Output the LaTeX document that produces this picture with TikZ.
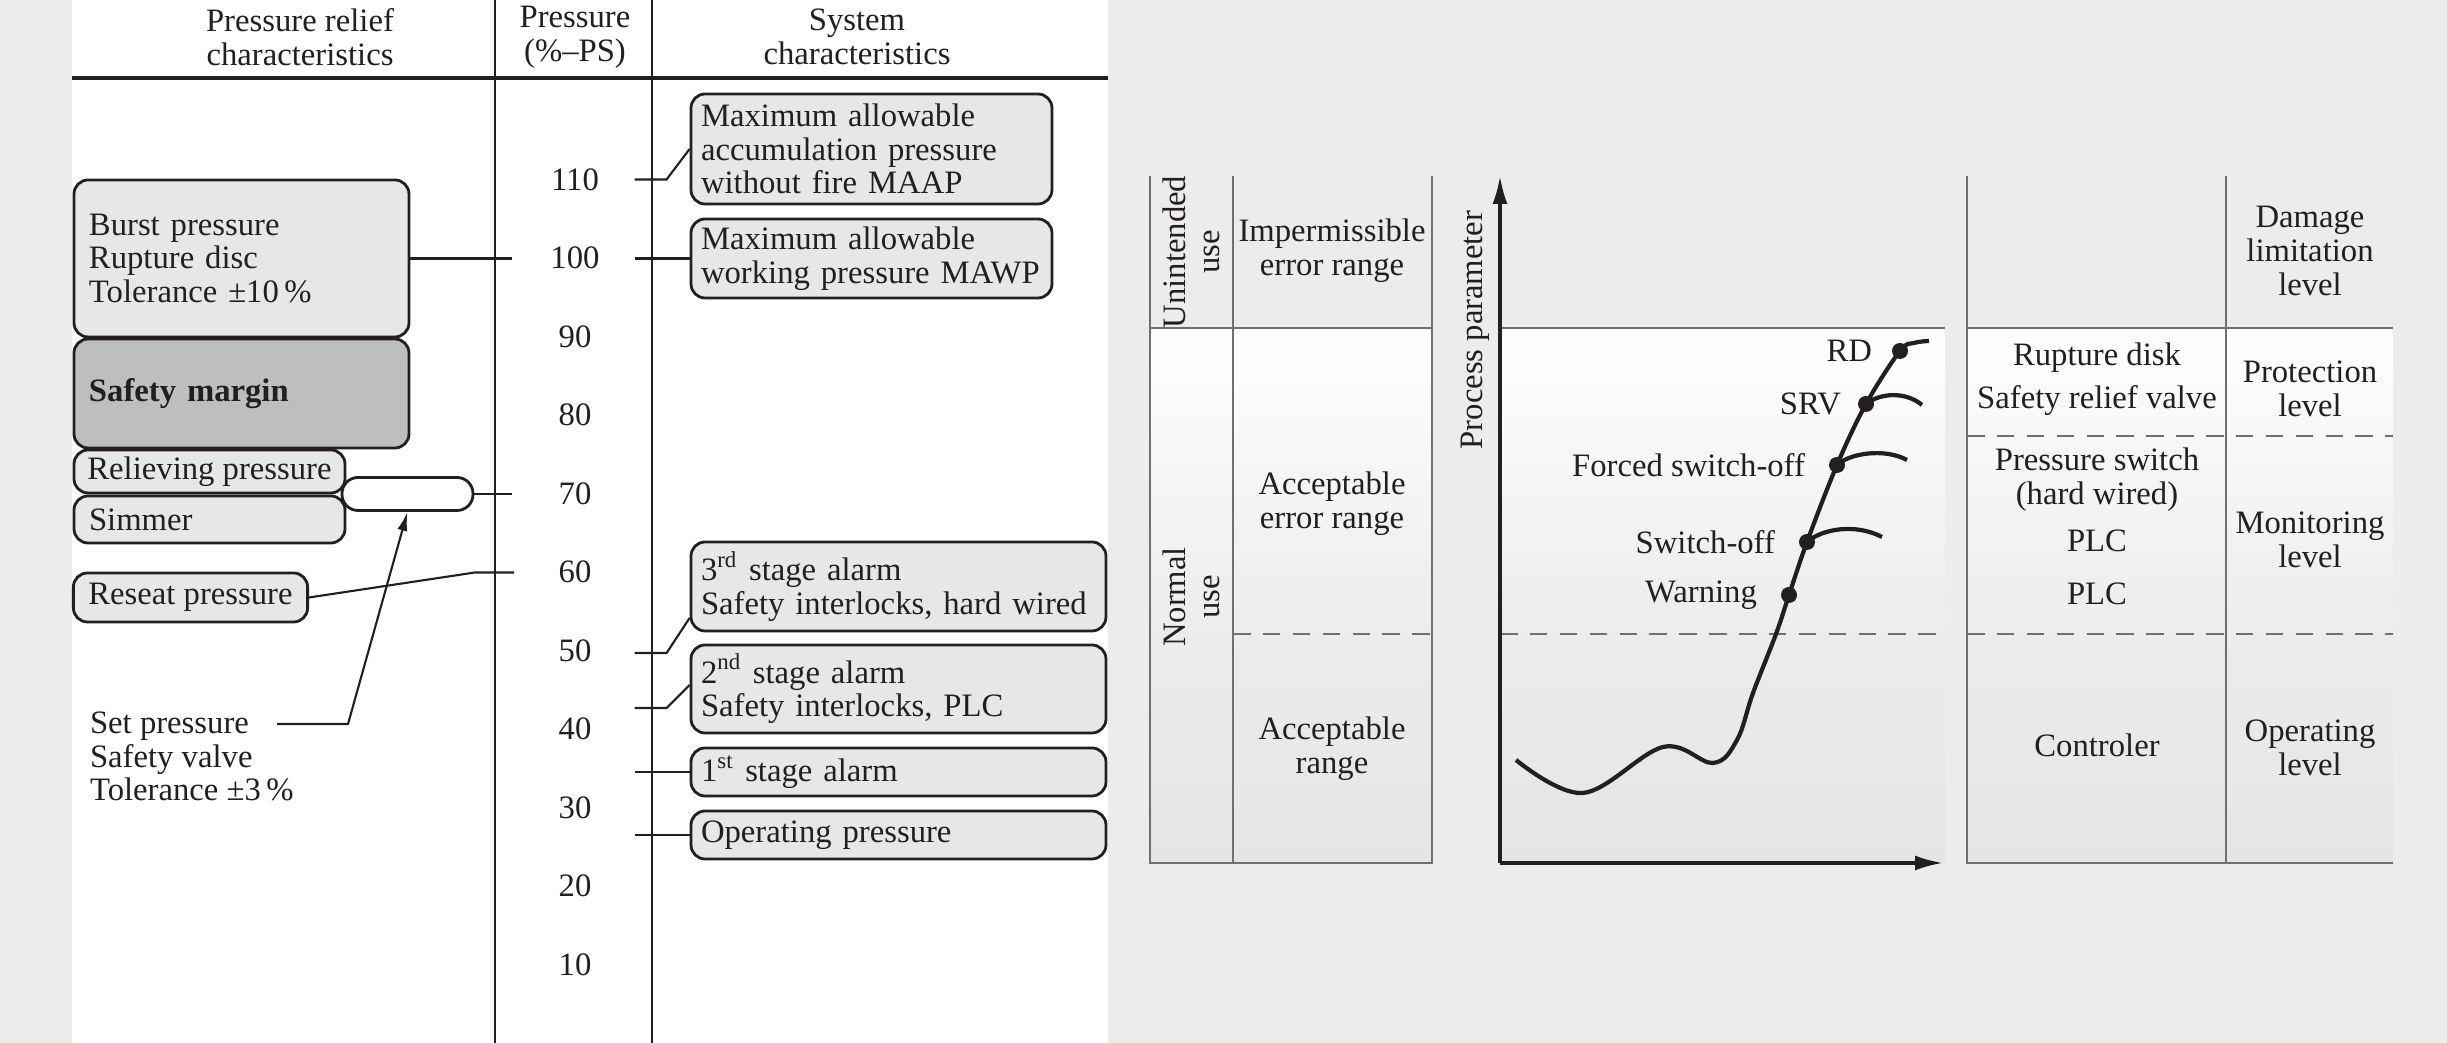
\documentclass[tikz,border=0pt]{standalone}
\usepackage{fontspec}
\setmainfont{Liberation Serif}
\usetikzlibrary{arrows.meta,positioning}
\definecolor{bggray}{RGB}{236,236,234}
\definecolor{boxgray}{RGB}{230,231,232}
\definecolor{margingray}{RGB}{189,190,192}
\definecolor{ink}{RGB}{35,31,32}
\definecolor{rulegray}{RGB}{112,112,114}
\definecolor{midgray}{RGB}{235,236,237}
\definecolor{lowgray}{RGB}{228,229,231}
\begin{document}
\begin{tikzpicture}[x=1cm,y=1cm,>={Latex[length=2.8mm,width=1.5mm]},line width=.6pt,color=ink,
  font=\fontsize{9.3}{9.6}\selectfont,
  relbox/.style={draw=ink,fill=boxgray,line width=.8pt,rounded corners=4pt,align=left,inner xsep=.15cm,inner ysep=0pt},
  sysbox/.style={relbox,inner xsep=.1cm},
  rule/.style={draw=rulegray,line width=.5pt},
  gap/.style={rule,dash pattern=on 5pt off 3.5pt},
  dot/.style={circle,fill=ink,inner sep=0pt,minimum size=.16cm},
  lbl/.style={inner sep=0pt}]
 \useasboundingbox (0,0) rectangle (24.47,10.43);
 \fill[bggray] (0,0) rectangle (24.47,10.43);
 \fill[white] (0.72,0) rectangle (11.08,10.43);
 \draw[line width=1pt] (0.72,9.65) -- (11.08,9.65);
 \draw (4.95,0) -- (4.95,10.43) (6.52,0) -- (6.52,10.43);
 \node[align=center] (hrel) at (3.00,10.06) {Pressure relief\\characteristics};
 \node[align=center] (hpr) at (5.75,10.06) {Pressure\\(\%–PS)};
 \node[align=center] (hsys) at (8.57,10.06) {System\\characteristics};
 \foreach \v in {10,20,...,110} \node (p\v) at (5.75,0.0785*\v) {\v};
 \coordinate (lx) at (5.12,0);
 \node[relbox,text width=3.05cm,minimum height=1.57cm] (burst) at (2.415,7.845) {Burst pressure\\Rupture disc\\Tolerance ±10\,\%};
 \node[relbox,fill=margingray,text width=3.05cm,minimum height=1.09cm,font=\fontsize{9.3}{9.6}\selectfont\bfseries] (margin) at (2.415,6.495) {Safety margin};
 \node[relbox,minimum width=2.71cm,minimum height=.43cm,inner xsep=.05cm] (reliev) at (2.095,5.715) {Relieving pressure};
 \node[relbox,text width=2.41cm,minimum height=.47cm] (simmer) at (2.095,5.235) {Simmer};
 \node[relbox,fill=white,minimum width=1.31cm,minimum height=.33cm,rounded corners=.16cm] (setvalve) at (4.075,5.49) {};
 \node[relbox,minimum width=2.33cm,minimum height=.49cm] (reseat) at (1.905,4.455) {Reseat pressure};
 \node[align=left,anchor=west,inner xsep=0pt] (setp) at (0.89,2.865) {Set pressure\\Safety valve\\Tolerance ±3\,\%};
 \coordinate (spt) at (2.77,3.19);
 \draw (burst.east) -- (burst.east -| lx);
 \draw (setvalve.east) -- (setvalve.east -| lx);
 \draw (reseat.east) -- ++(1.66,.25) -- ++(.39,0);
 \draw[-{Latex[length=1.9mm,width=1mm]}] (spt) -- ++(.71,0) -- (setvalve.south);
 \node[sysbox,text width=3.41cm,minimum height=1.10cm] (maap) at (8.715,8.94) {Maximum allowable\\accumulation pressure\\without fire MAAP};
 \node[sysbox,text width=3.41cm,minimum height=.79cm] (mawp) at (8.715,7.845) {Maximum allowable\\working pressure MAWP};
 \node[sysbox,text width=3.95cm,minimum height=.89cm] (alarmc) at (8.985,4.565) {3\textsuperscript{rd} stage alarm\\Safety interlocks, hard wired};
 \node[sysbox,text width=3.95cm,minimum height=.88cm] (alarmb) at (8.985,3.54) {2\textsuperscript{nd} stage alarm\\Safety interlocks, PLC};
 \node[sysbox,text width=3.95cm,minimum height=.48cm] (alarma) at (8.985,2.71) {1\textsuperscript{st} stage alarm};
 \node[sysbox,text width=3.95cm,minimum height=.48cm] (oper) at (8.985,2.08) {Operating pressure};
 \draw (maap.west) -- ++(-.23,-.305) -- ++(-.32,0);
 \draw (mawp.west) -- ++(-.55,0);
 \draw ([yshift=-3.15mm]alarmc.west) -- ++(-.23,-.35) -- ++(-.32,0);
 \draw ([yshift=.4mm]alarmb.west) -- ++(-.23,-.23) -- ++(-.32,0);
 \draw (alarma.west) -- ++(-.55,0);
 \draw (oper.west) -- ++(-.55,0);
 \foreach \xa/\xb in {11.50/14.32,15.00/19.45,19.67/23.93} {
  \shade[top color=white,bottom color=midgray] (\xa,4.09) rectangle (\xb,7.15);
  \shade[top color=midgray,bottom color=lowgray] (\xa,1.80) rectangle (\xb,4.09);
 }
 \draw[rule] (11.50,8.67) -- (11.50,1.80) -- (14.32,1.80) -- (14.32,8.67) (12.33,8.67) -- (12.33,1.80) (11.50,7.15) -- (14.32,7.15);
 \draw[gap] (12.33,4.09) -- (14.32,4.09);
 \node[rotate=90,align=center] (unint) at (11.91,7.91) {Unintended\\use};
 \node[rotate=90,align=center] (normal) at (11.91,4.46) {Normal\\use};
 \node[align=center] (imperm) at (13.32,7.92) {Impermissible\\error range};
 \node[align=center] (accerr) at (13.32,5.39) {Acceptable\\error range};
 \node[align=center] (accr) at (13.32,2.94) {Acceptable\\range};
 \coordinate (org) at (15.00,1.80);
 \draw[rule] (15.02,7.15) -- (19.45,7.15);
 \draw[gap] (15.00,4.09) -- (19.45,4.09);
 \draw[->,line width=.9pt] (org) -- (15.00,8.67);
 \draw[->,line width=.9pt] (org) -- (19.43,1.80);
 \node[rotate=90] (ylab) at (14.75,7.13) {Process parameter};
 \draw[line width=1.2pt] plot[smooth,tension=.6] coordinates {(15.16,2.83) (15.83,2.50) (16.63,2.96) (17.13,2.80) (17.37,3.03) (17.53,3.50) (17.76,4.09) (17.89,4.48) (18.07,5.01) (18.37,5.78) (18.66,6.39) (19.00,6.92) (19.14,7.00) (19.29,7.02)};
 \node[dot] (warn) at (17.89,4.48) {};
 \node[dot] (swoff) at (18.07,5.01) {};
 \node[dot] (forced) at (18.37,5.78) {};
 \node[dot] (srv) at (18.66,6.39) {};
 \node[dot] (rd) at (19.00,6.92) {};
 \draw[line width=1.2pt] (swoff.center) .. controls (18.22,5.14) and (18.55,5.2) .. (18.82,5.06);
 \draw[line width=1.2pt] (forced.center) .. controls (18.5,5.9) and (18.85,5.95) .. (19.07,5.83);
 \draw[line width=1.2pt] (srv.center) .. controls (18.8,6.5) and (19.05,6.52) .. (19.22,6.38);
 \node[lbl,left=.22cm of warn] (warnl) {Warning};
 \node[lbl,left=.22cm of swoff] (swoffl) {Switch-off};
 \node[lbl,left=.22cm of forced] (forcedl) {Forced switch-off};
 \node[lbl,left=.15cm of srv] (srvl) {SRV};
 \node[lbl,left=.18cm of rd] (rdl) {RD};
 \draw[rule] (19.67,8.67) -- (19.67,1.80) -- (23.93,1.80) (22.26,8.67) -- (22.26,1.80) (19.67,7.15) -- (23.93,7.15);
 \draw[gap] (19.67,6.07) -- (23.93,6.07) (19.67,4.09) -- (23.93,4.09);
 \node[align=center] (damage) at (23.10,7.92) {Damage\\limitation\\level};
 \node[align=center] (rupture) at (20.97,6.64) {Rupture disk\\[2.5pt]Safety relief valve};
 \node[align=center] (protect) at (23.10,6.545) {Protection\\level};
 \node[align=center] (pswitch) at (20.97,5.63) {Pressure switch\\(hard wired)};
 \node (plca) at (20.97,5.02) {PLC};
 \node (plcb) at (20.97,4.49) {PLC};
 \node[align=center] (monitor) at (23.10,5.03) {Monitoring\\level};
 \node (ctrl) at (20.97,2.98) {Controler};
 \node[align=center] (operl) at (23.10,2.95) {Operating\\level};
\end{tikzpicture}
\end{document}
